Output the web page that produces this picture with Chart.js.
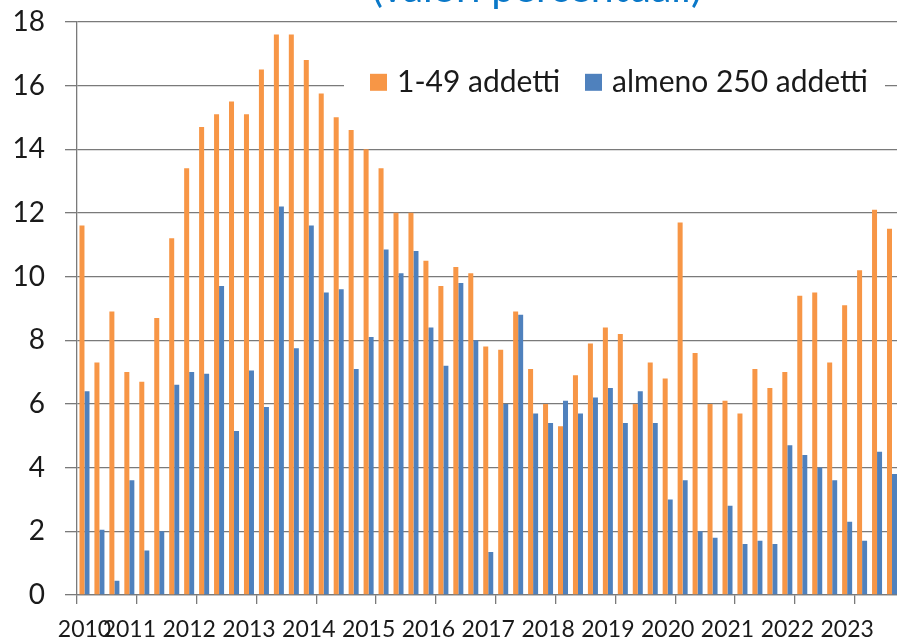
<!DOCTYPE html>
<html>
<head>
<meta charset="utf-8">
<script src="https://cdn.jsdelivr.net/npm/chart.js@4.4.1/dist/chart.umd.min.js"></script>
<style>
  html, body { margin: 0; padding: 0; width: 897px; height: 639px; overflow: hidden; background: #fff; }
  #wrap { position: absolute; left: 0; top: -15px; width: 904px; height: 654px; }
  #title { position: absolute; left: 372px; top: -34px; font-family: Lato, sans-serif; font-size: 41px; line-height: 41px; color: #0a78c8; white-space: nowrap; z-index: 2; }
</style>
</head>
<body>
<div id="title">(valori percentuali)</div>
<div id="wrap"><canvas id="c"></canvas></div>
<script>
const quarters = [
  '2010 T1','2010 T2','2010 T3','2010 T4',
  '2011 T1','2011 T2','2011 T3','2011 T4',
  '2012 T1','2012 T2','2012 T3','2012 T4',
  '2013 T1','2013 T2','2013 T3','2013 T4',
  '2014 T1','2014 T2','2014 T3','2014 T4',
  '2015 T1','2015 T2','2015 T3','2015 T4',
  '2016 T1','2016 T2','2016 T3','2016 T4',
  '2017 T1','2017 T2','2017 T3','2017 T4',
  '2018 T1','2018 T2','2018 T3','2018 T4',
  '2019 T1','2019 T2','2019 T3','2019 T4',
  '2020 T1','2020 T2','2020 T3','2020 T4',
  '2021 T1','2021 T2','2021 T3','2021 T4',
  '2022 T1','2022 T2','2022 T3','2022 T4',
  '2023 T1','2023 T2','2023 T3'
];
const small = [
  11.6, 7.3, 8.9, 7.0,
  6.7, 8.7, 11.2, 13.4,
  14.7, 15.1, 15.5, 15.1,
  16.5, 17.6, 17.6, 16.8,
  15.75, 15.0, 14.6, 14.0,
  13.4, 12.0, 12.0, 10.5,
  9.7, 10.3, 10.1, 7.8,
  7.7, 8.9, 7.1, 6.0,
  5.3, 6.9, 7.9, 8.4,
  8.2, 6.0, 7.3, 6.8,
  11.7, 7.6, 6.0, 6.1,
  5.7, 7.1, 6.5, 7.0,
  9.4, 9.5, 7.3, 9.1,
  10.2, 12.1, 11.5
];
const large = [
  6.4, 2.05, 0.45, 3.6,
  1.4, 2.0, 6.6, 7.0,
  6.95, 9.7, 5.15, 7.05,
  5.9, 12.2, 7.75, 11.6,
  9.5, 9.6, 7.1, 8.1,
  10.85, 10.1, 10.8, 8.4,
  7.2, 9.8, 8.0, 1.35,
  6.0, 8.8, 5.7, 5.4,
  6.1, 5.7, 6.2, 6.5,
  5.4, 6.4, 5.4, 3.0,
  3.6, 2.0, 1.8, 2.8,
  1.6, 1.7, 1.6, 4.7,
  4.4, 4.0, 3.6, 2.3,
  1.7, 4.5, 3.8
];
const seriesNames = ['1-49 addetti', 'almeno 250 addetti'];
const yearLabels = ['2010','2011','2012','2013','2014','2015','2016','2017','2018','2019','2020','2021','2022','2023'];
const yearLabelIndex = [0,3,7,11,15,19,23,27,31,35,39,43,47,51];
const yTicks = [0,2,4,6,8,10,12,14,16,18];

const ORANGE = '#f79646';
const BLUE = '#4f81bd';
const GRID = '#7a7a7a';

const legendInside = {
  id: 'legendInside',
  afterDraw(chart) {
    const ctx = chart.ctx;
    const dy = chart.chartArea.top - 21; // legend sits relative to plot top
    ctx.save();
    ctx.fillStyle = '#ffffff';
    ctx.fillRect(344, 60 + dy, 541, 48);
    const items = [
      { box: 370, text: 397, ds: chart.data.datasets[0] },
      { box: 585, text: 612, ds: chart.data.datasets[1] }
    ];
    ctx.font = '30px Lato, sans-serif';
    ctx.textBaseline = 'middle';
    ctx.textAlign = 'left';
    for (const it of items) {
      ctx.fillStyle = it.ds.backgroundColor;
      ctx.fillRect(it.box, 73 + dy, 17, 17);
      ctx.fillStyle = '#1a1a1a';
      ctx.fillText(it.ds.label, it.text, 82 + dy);
    }
    ctx.restore();
  }
};

new Chart(document.getElementById('c'), {
  type: 'bar',
  data: {
    labels: quarters,
    datasets: [
      { label: seriesNames[0], data: small, backgroundColor: ORANGE, categoryPercentage: 0.67, barPercentage: 1.0 },
      { label: seriesNames[1], data: large, backgroundColor: BLUE, categoryPercentage: 0.67, barPercentage: 1.0 }
    ]
  },
  options: {
    responsive: true,
    maintainAspectRatio: false,
    animation: false,
    layout: { padding: { top: 6, right: 0, left: 0, bottom: 0 } },
    plugins: { legend: { display: false }, tooltip: { enabled: false }, title: { display: false } },
    scales: {
      x: {
        type: 'category',
        offset: true,
        grid: {
          offset: true,
          drawOnChartArea: false,
          drawTicks: true,
          tickLength: 9,
          lineWidth: 1.3,
          color: (c) => (c.index % 4 === 0 ? GRID : 'rgba(0,0,0,0)')
        },
        border: { display: true, color: GRID, width: 1.3 },
        ticks: {
          autoSkip: false,
          maxRotation: 0,
          minRotation: 0,
          padding: 12,
          color: '#1a1a1a',
          font: { family: 'Lato', size: 23 },
          callback: function (v, i) {
            const k = yearLabelIndex.indexOf(i);
            return k >= 0 ? yearLabels[k] : '';
          }
        },
        afterFit: (s) => { s.height = 44; }
      },
      y: {
        min: 0,
        max: 18,
        afterBuildTicks: (s) => { s.ticks = yTicks.map(v => ({ value: v })); },
        grid: { color: GRID, lineWidth: 1.3, tickLength: 12, drawTicks: true },
        border: { display: true, color: GRID, width: 1.3 },
        ticks: {
          padding: 20,
          color: '#1a1a1a',
          font: { family: 'Lato', size: 28 }
        },
        afterFit: (s) => { s.width = 77; }
      }
    }
  },
  plugins: [legendInside]
});
</script>
</body>
</html>
